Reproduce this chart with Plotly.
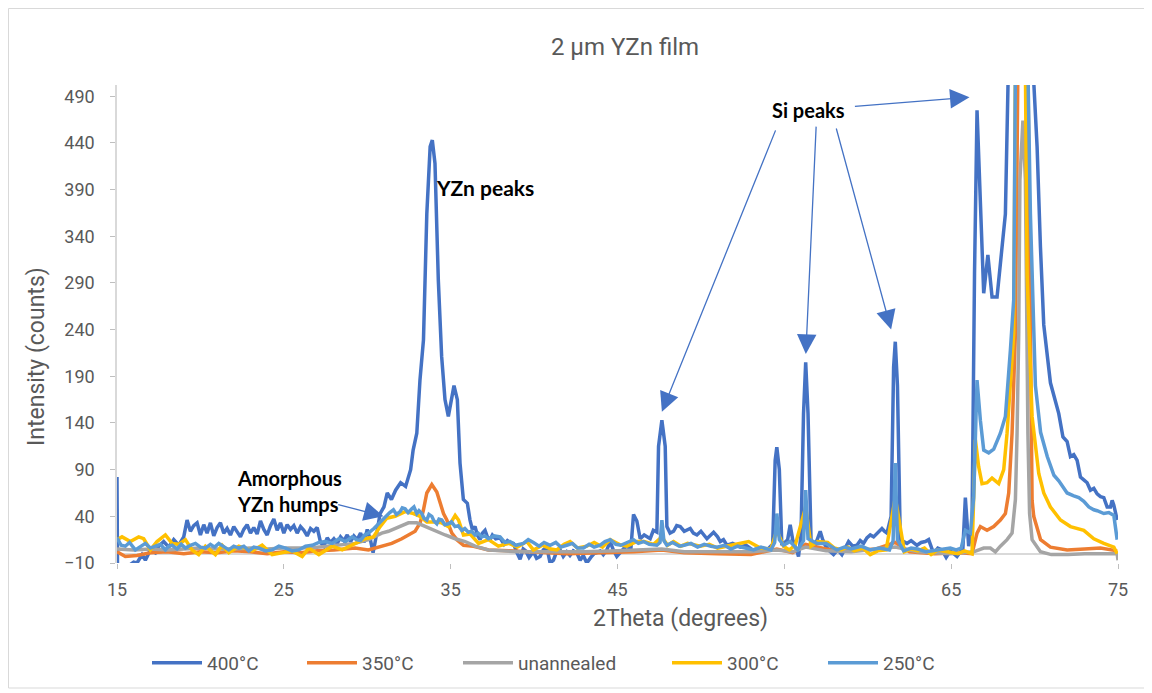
import plotly.graph_objects as go

# ---------------- data ----------------
x_400 = [15.0, 15.03, 15.4, 15.7, 16.0, 16.2, 16.5, 16.7, 17.0, 17.3, 17.5, 17.8, 18.1, 18.4, 18.7,
         19.0, 19.2, 19.4, 19.6, 19.8, 20.0, 20.2, 20.4, 20.6, 20.8, 21.0, 21.2, 21.4, 21.6, 21.8,
         22.0, 22.2, 22.4, 22.6, 22.8, 23.0, 23.2, 23.4, 23.6, 23.8, 24.0, 24.2, 24.4, 24.6, 24.8,
         25.0, 25.2, 25.4, 25.6, 25.8, 26.0, 26.2, 26.4, 26.6, 26.8, 27.0, 27.2, 27.4, 27.6, 27.8,
         28.0, 28.2, 28.4, 28.6, 28.8, 29.0, 29.2, 29.4, 29.6, 29.8, 30.0, 30.2, 30.35, 30.55, 30.77,
         31.0, 31.2, 31.45, 31.7, 32.0, 32.3, 32.6, 32.75, 32.97, 33.05, 33.16, 33.37, 33.57, 33.77,
         33.9, 34.06, 34.26, 34.46, 34.66, 34.86, 35.07, 35.2, 35.4, 35.56, 35.76, 36.0, 36.16, 36.3,
         36.46, 36.6, 36.76, 36.9, 37.06, 37.2, 37.36, 37.5, 37.7, 37.96, 38.2, 38.4, 38.56, 38.76,
         38.95, 39.16, 39.35, 39.5, 39.7, 39.96, 40.15, 40.36, 40.55, 40.76, 40.96, 41.16, 41.35,
         41.56, 41.75, 41.96, 42.15, 42.35, 42.56, 42.76, 42.95, 43.16, 43.4, 43.6, 43.76, 43.96,
         44.15, 44.36, 44.56, 44.75, 44.96, 45.2, 45.4, 45.56, 45.8, 45.96, 46.16, 46.36, 46.6, 46.96,
         47.15, 47.36, 47.46, 47.66, 47.86, 47.96, 48.15, 48.36, 48.55, 48.76, 49.0, 49.36, 49.55,
         49.76, 50.0, 50.36, 50.55, 50.76, 51.0, 51.16, 51.35, 51.56, 51.9, 52.36, 52.7, 53.1, 53.56,
         53.96, 54.3, 54.45, 54.55, 54.7, 54.85, 55.05, 55.2, 55.35, 55.5, 55.7, 55.85, 56.0, 56.15,
         56.28, 56.42, 56.6, 56.75, 56.95, 57.15, 57.3, 57.45, 57.7, 57.95, 58.2, 58.45, 58.65, 58.85,
         59.1, 59.35, 59.55, 59.75, 59.95, 60.15, 60.35, 60.55, 60.7, 60.85, 61.0, 61.15, 61.4, 61.55,
         61.65, 61.78, 61.95, 62.15, 62.35, 62.6, 62.95, 63.2, 63.45, 63.65, 63.95, 64.2, 64.45,
         64.7, 64.95, 65.15, 65.35, 65.55, 65.7, 65.85, 66.05, 66.25, 66.4, 66.55, 66.75, 66.95,
         67.2, 67.45, 67.75, 68.05, 68.25, 68.45, 69.3, 69.85, 70.15, 70.35, 70.55, 70.95, 71.25,
         71.45, 71.7, 71.95, 72.15, 72.35, 72.55, 72.75, 72.95, 73.15, 73.35, 73.55, 73.75, 73.95,
         74.15, 74.35, 74.55, 74.65, 74.75, 74.95]
y_400 = [82, -14, -12, -13, -9, -10, -1, -7, 4, 1, 8, 13, 7, 15, 9,
         18, 36, 24, 30, 33, 20, 31, 22, 33, 19, 28, 33, 22, 27, 20,
         29, 24, 18, 26, 31, 22, 28, 21, 35, 26, 20, 30, 37, 25, 33,
         22, 31, 26, 30, 22, 29, 25, 19, 27, 24, 28, 12, 8, 17, 12,
         16, 11, 18, 14, 20, 13, 19, 15, 22, 12, 26, 14, 1, 20, 43,
         50, 65, 58, 68, 76, 72, 90, 111, 129, 151, 186, 229, 364, 436,
         443, 418, 293, 211, 165, 147, 165, 180, 165, 97, 58, 54, 36, 26,
         29, 20, 15, 22, 25, 18, 15, 20, 16, 17, 10, 14, 12, 11,
         2, -6, 5, 3, -4, 2, -5, -3, 4, 7, -10, -7, 2,
         4, -3, 2, -2, 3, 1, -7, -2, -10, -4, 0, 1, 3,
         -1, 4, 13, 4, -3, 2, 6, 8, 5, 42, 35, 16, 20, 16,
         25, 23, 115, 143, 115, 29, 22, 24, 30, 29, 24, 27, 22,
         20, 24, 16, 19, 23, 18, 13, 15, 9, 11, 7, 9, 4, 6,
         4, 10, 100, 114, 90, 9, 12, 15, 31, 15, 6, -3, 20, 150,
         205, 150, 15, 9, 14, 24, 15, 9, 3, -1, 4, -1, 6, 13,
         8, 9, 14, 11, 17, 20, 18, 22, 25, 27, 24, 22, 40, 200,
         227, 180, 15, 13, 11, 14, 9, 12, 13, 15, 0, 6, 4,
         -4, 3, 0, -3, 2, 5, 60, 8, 30, 300, 475, 364, 279,
         320, 275, 275, 329, 364, 540, 5000, 540, 436, 329, 245, 183, 165,
         150, 125, 120, 104, 106, 100, 82, 79, 76, 68, 70, 64, 61,
         60, 50, 50, 57, 52, 36]

x_350 = [15.0, 15.5, 16.2, 17.0, 18.0, 19.0, 20.0, 21.0, 22.0, 23.0, 24.0, 25.0, 26.0, 27.0, 28.0,
         29.27, 30.07, 30.87, 31.47, 32.07, 32.47, 32.87, 33.17, 33.37, 33.57, 33.87, 34.17, 34.37,
         34.57, 34.77, 35.07, 35.37, 35.77, 36.37, 37.27, 38.5, 40.0, 42.0, 44.0, 46.0, 47.66, 49.0,
         51.0, 53.0, 54.55, 55.5, 56.28, 57.5, 59.0, 60.5, 61.65, 62.5, 64.0, 65.5, 66.25, 66.55,
         66.75, 67.15, 67.55, 67.95, 68.25, 68.45, 68.65, 68.85, 69.0, 69.3, 69.6, 69.85, 69.95,
         70.36, 70.95, 71.95, 73.0, 73.95, 74.95]
y_350 = [2, -3, -2, 1, 2, 0, 2, 1, 3, 2, 0, 2, 1, 3, 4,
         6, 4, 8, 11, 16, 20, 24, 33, 47, 65, 74, 66, 54,
         43, 36, 22, 15, 9, 8, 4, 3, 2, 0, 1, 2, 4, 1,
         0, -1, 5, 1, 10, 5, 3, 5, 12, 2, 0, 1, 0, 22,
         29, 25, 29, 36, 43, 65, 129, 236, 520, 5000, 520, 57, 40,
         15, 7, 4, 5, 6, 3]

x_un = [15.0, 16.0, 17.0, 18.0, 19.0, 20.0, 21.0, 22.0, 23.0, 24.0, 25.0, 26.0, 27.0, 28.0, 29.27,
        30.07, 30.87, 31.27, 31.87, 32.47, 32.97, 33.47, 34.07, 34.67, 35.27, 35.87, 36.46, 37.26,
        38.06, 39.0, 41.0, 43.0, 45.0, 47.66, 49.0, 51.0, 53.0, 54.55, 55.5, 56.28, 57.5, 59.0,
        61.65, 63.0, 64.95, 66.35, 66.95, 67.35, 67.65, 67.95, 68.35, 68.65, 68.85, 68.95, 69.05,
        69.12, 69.3, 69.45, 69.52, 69.6, 69.7, 69.85, 70.35, 71.0, 72.0, 73.0, 74.0, 74.95, 75.0]
y_un = [5, 4, 5, 4, 5, 6, 5, 5, 6, 5, 6, 6, 7, 9, 11,
        15, 22, 24, 29, 33, 33, 29, 24, 20, 16, 13, 8, 4,
        3, 2, 2, 2, 3, 5, 2, 2, 2, 4, 2, 7, 3, 2,
        7, 2, 0, 2, 6, 6, 2, 8, 15, 22, 58, 129, 236,
        400, 464, 400, 257, 129, 43, 15, 2, -1, -1, 0, 0, 0, -7]

x_300 = [15.0, 15.3, 15.8, 16.3, 16.6, 17.0, 17.4, 17.9, 18.3, 18.7, 19.1, 19.5, 19.9, 20.3, 20.9,
         21.3, 21.7, 22.3, 23.1, 23.7, 24.3, 24.9, 25.5, 26.1, 26.5, 27.1, 27.9, 28.5, 29.3, 29.87,
         30.37, 30.77, 31.17, 31.67, 32.27, 32.77, 33.17, 33.57, 34.07, 34.47, 34.87, 35.27, 35.47,
         35.77, 36.17, 36.67, 37.27, 37.86, 38.5, 39.0, 39.56, 39.96, 40.5, 41.0, 41.36, 41.8, 42.16,
         42.6, 43.16, 43.6, 44.1, 44.56, 45.1, 45.56, 46.16, 46.6, 47.16, 47.66, 48.0, 48.36, 48.8,
         49.2, 49.96, 50.5, 51.0, 51.5, 52.2, 52.86, 53.56, 54.2, 54.55, 54.95, 55.3, 55.65, 56.28,
         56.6, 57.0, 57.6, 58.0, 58.4, 58.8, 59.2, 59.7, 60.15, 60.6, 61.1, 61.65, 62.2, 62.6, 63.0,
         63.4, 63.8, 64.2, 64.5, 65.0, 65.4, 65.8, 66.25, 66.45, 66.65, 66.85, 67.15, 67.45, 67.85,
         68.15, 68.35, 68.55, 68.75, 68.85, 69.3, 69.45, 69.55, 69.85, 70.06, 70.25, 70.55, 70.95,
         71.55, 72.15, 72.95, 73.55, 74.15, 74.75, 74.95]
y_300 = [15, 18, 13, 18, 16, 4, 13, 20, 11, 10, 15, 4, -1, 8, -1,
         9, 1, 8, 3, 9, -1, 1, 3, -3, 6, -1, 8, 4, 11, 16,
         18, 29, 38, 40, 45, 43, 40, 34, 34, 33, 29, 41, 36,
         20, 21, 11, 15, 8, 11, 7, 13, 4, 9, 5, 4, 10, 13,
         6, 8, 12, 7, 15, 10, 8, 13, 13, 10, 18, 9, 13, 8,
         11, 8, 10, 6, 8, 11, 13, 6, 5, 25, 8, 4, 9, 50,
         8, 13, 12, 6, 4, 7, 3, 6, -1, 3, 4, 60, 2, 5, 3,
         6, -1, 4, 3, 1, 0, 3, 0, 122, 93, 75, 76, 81, 75,
         90, 129, 182, 236, 520, 5000, 520, 300, 147, 111, 86, 65, 50,
         36, 29, 25, 16, 11, 7, 0]

x_250 = [15.0, 15.25, 15.5, 15.75, 16.1, 16.4, 16.7, 17.0, 17.3, 17.6, 17.9, 18.1, 18.3, 18.6, 18.85,
         19.1, 19.4, 19.7, 20.0, 20.3, 20.6, 20.85, 21.1, 21.4, 21.7, 22.0, 22.3, 22.6, 22.9, 23.2,
         23.5, 23.9, 24.3, 24.7, 25.1, 25.5, 25.9, 26.3, 26.7, 27.1, 27.5, 27.9, 28.3, 28.7, 29.1,
         29.35, 29.6, 29.85, 30.07, 30.4, 30.67, 30.9, 31.17, 31.35, 31.57, 31.75, 31.97, 32.1, 32.27,
         32.45, 32.67, 32.8, 32.97, 33.1, 33.27, 33.4, 33.57, 33.7, 33.87, 34.0, 34.17, 34.3, 34.47,
         34.65, 34.86, 35.05, 35.26, 35.45, 35.67, 35.85, 36.06, 36.25, 36.46, 36.65, 36.86, 37.05,
         37.26, 37.6, 37.96, 38.25, 38.56, 38.9, 39.36, 39.65, 39.96, 40.3, 40.6, 40.96, 41.3, 41.6,
         41.96, 42.3, 42.6, 42.96, 43.3, 43.6, 43.96, 44.25, 44.56, 44.9, 45.2, 45.6, 45.96, 46.25,
         46.56, 46.9, 47.36, 47.55, 47.66, 47.78, 47.96, 48.3, 48.7, 49.0, 49.4, 49.8, 50.2, 50.6,
         50.96, 51.4, 51.8, 52.2, 52.6, 53.16, 53.6, 54.2, 54.42, 54.55, 54.7, 54.95, 55.35, 55.8,
         56.15, 56.28, 56.42, 56.95, 57.5, 58.15, 58.6, 59.0, 59.6, 60.15, 60.7, 61.3, 61.52, 61.65,
         61.78, 62.15, 62.6, 63.0, 63.5, 63.9, 64.4, 64.95, 65.3, 65.6, 65.85, 66.15, 66.35, 66.55,
         66.75, 66.95, 67.25, 67.55, 67.95, 68.25, 68.55, 68.75, 68.85, 69.3, 69.6, 69.75, 70.05,
         70.36, 70.76, 71.16, 71.45, 71.75, 71.95, 72.35, 72.65, 72.95, 73.25, 73.55, 73.75, 74.15,
         74.45, 74.75, 74.95]
y_250 = [17, 9, 8, 12, 4, 7, 11, 6, 8, 10, 4, 8, 9, 5, 10,
         6, 9, 11, 7, 6, 10, 7, 11, 8, 4, 8, 6, 8, 3, 7,
         6, 3, 4, 8, 6, 3, 4, 8, 9, 12, 13, 11, 16, 13, 18,
         15, 14, 20, 22, 27, 32, 36, 40, 44, 47, 42, 45, 49, 48,
         44, 48, 50, 43, 46, 43, 38, 36, 42, 40, 35, 32, 37, 36,
         31, 32, 34, 29, 30, 25, 27, 23, 24, 20, 22, 18, 19,
         16, 19, 18, 12, 13, 9, 11, 15, 12, 8, 12, 9, 12, 7,
         9, 11, 6, 6, 10, 7, 9, 13, 15, 10, 9, 12, 15, 11,
         13, 10, 9, 12, 36, 14, 9, 12, 8, 9, 11, 7, 10, 8,
         7, 9, 5, 8, 6, 4, 7, 4, 12, 43, 15, 9, 13, 4,
         14, 68, 16, 11, 11, 4, 7, 5, 8, 4, 6, 4, 14, 97,
         15, 3, 6, 5, 2, 3, 5, 6, 4, 6, 25, 22, 60, 186,
         143, 111, 108, 112, 129, 147, 218, 272, 520, 5000, 520, 364, 180,
         130, 104, 84, 78, 70, 65, 62, 60, 56, 50, 47, 46, 43,
         44, 41, 15]

series_names = ["400°C", "350°C", "unannealed", "300°C", "250°C"]
series_colors = ["#4472C4", "#ED7D31", "#A5A5A5", "#FFC000", "#5B9BD5"]
series_x = [x_400, x_350, x_un, x_300, x_250]
series_y = [y_400, y_350, y_un, y_300, y_250]

y_ticks = [-10, 40, 90, 140, 190, 240, 290, 340, 390, 440, 490]
x_ticks = [15, 25, 35, 45, 55, 65, 75]

FONT = "Roboto, Open Sans, sans-serif"
BOLD = "Lato, Open Sans, sans-serif"
TXT = "#595959"

# The page body adds an 8 px offset, so the figure is laid out in coordinates shifted by 8 px.
OFF = 8
W, H = 1152 - OFF, 693 - OFF
# plot area (reference pixel coordinates)
PX0, PX1, PY0, PY1 = 117, 1118, 85, 563
L, R, T, B = PX0 - OFF, W - (PX1 - OFF), PY0 - OFF, H - (PY1 - OFF)
PW, PH = PX1 - PX0, PY1 - PY0


def px_to_paper(px, py):
    return (px - PX0) / PW, (PY1 - py) / PH


fig = go.Figure()
legend_ids = ["legend", "legend2", "legend3", "legend4", "legend5"]
for name, col, xs, ys, lg in zip(series_names, series_colors, series_x, series_y, legend_ids):
    fig.add_trace(go.Scatter(x=xs, y=ys, mode="lines", name=name, legend=lg,
                             line=dict(color=col, width=3.5)))

# annotations with arrows (tip, tail in data coords)
arrow_col = "#4472C4"
arrows = [
    (47.66, 152, 54.51, 455),
    (56.29, 214, 56.91, 459),
    (61.40, 240, 58.09, 457),
    (66.10, 489, 59.14, 479),
    (30.97, 40, 28.17, 53),
]
for tx, ty, sx, sy in arrows:
    fig.add_annotation(x=tx, y=ty, ax=sx, ay=sy, xref="x", yref="y", axref="x", ayref="y",
                       text="", showarrow=True, arrowhead=2, arrowsize=3.0, arrowwidth=1.3,
                       arrowcolor=arrow_col, standoff=0)

fig.add_annotation(x=37.06, y=392, xref="x", yref="y", text="<b>YZn peaks</b>", showarrow=False,
                   font=dict(family=BOLD, size=21, color="#000000"))
fig.add_annotation(x=56.43, y=475, xref="x", yref="y", text="<b>Si peaks</b>", showarrow=False,
                   font=dict(family=BOLD, size=20, color="#000000"))
fig.add_annotation(x=25.31, y=67, xref="x", yref="y", text="<b>Amorphous<br>YZn humps</b>",
                   showarrow=False, align="left",
                   font=dict(family=BOLD, size=20, color="#000000"))

# axis titles
ax_, ay_ = px_to_paper(37, 357)
fig.add_annotation(x=ax_, y=ay_, xref="paper", yref="paper", text="Intensity (counts)",
                   showarrow=False, textangle=-90, xanchor="center", yanchor="middle",
                   font=dict(family=FONT, size=23, color=TXT))
bx_, by_ = px_to_paper(680, 618)
fig.add_annotation(x=bx_, y=by_, xref="paper", yref="paper", text="2Theta (degrees)",
                   showarrow=False, xanchor="center", yanchor="middle",
                   font=dict(family=FONT, size=23, color=TXT))

# light gray frame around the whole chart
fx0, fy0 = px_to_paper(OFF + 0.5, 688)
fx1, fy1 = px_to_paper(1148, OFF + 0.5)
fig.add_shape(type="rect", xref="paper", yref="paper", x0=fx0, x1=fx1, y0=fy0, y1=fy1,
              line=dict(color="#D9D9D9", width=1), layer="below")

# separate legends so every entry sits where it does in the reference
legend_line_starts = [157, 312, 468, 677, 833]
legend_layout = {}
for lg, lx in zip(legend_ids, legend_line_starts):
    legend_layout[lg] = dict(orientation="h", x=(lx - OFF - 10) / W, xref="container", xanchor="left",
                             y=1 - (663 - OFF) / H, yref="container", yanchor="middle",
                             font=dict(family=FONT, size=19, color=TXT), itemwidth=50,
                             bgcolor="rgba(0,0,0,0)", borderwidth=0)

fig.update_layout(
    template="none",
    width=W, height=H,
    paper_bgcolor="white", plot_bgcolor="white",
    margin=dict(l=L, r=R, t=T, b=B, pad=0, autoexpand=False),
    title=dict(text="2 µm YZn film", x=(625 - OFF) / W, xref="container", xanchor="center",
               y=1 - (47 - OFF) / H, yref="container", yanchor="middle",
               font=dict(family=FONT, size=24, color=TXT)),
    showlegend=True,
    xaxis=dict(range=[15, 75], tickvals=x_ticks, showgrid=False, zeroline=False,
               showline=False, ticks="outside", ticklen=5, tickcolor="#BFBFBF",
               ticklabelstandoff=5, automargin=False,
               tickfont=dict(family=FONT, size=18, color=TXT)),
    yaxis=dict(range=[-10, 502], tickvals=y_ticks, showgrid=False, zeroline=True,
               zerolinecolor="#D9D9D9", zerolinewidth=1.5,
               showline=True, linecolor="#D9D9D9", linewidth=1.5,
               ticks="outside", ticklen=5, tickcolor="#BFBFBF",
               ticklabelstandoff=12, automargin=False,
               tickfont=dict(family=FONT, size=18, color=TXT)),
    **legend_layout,
)

fig.write_html("out.html")
